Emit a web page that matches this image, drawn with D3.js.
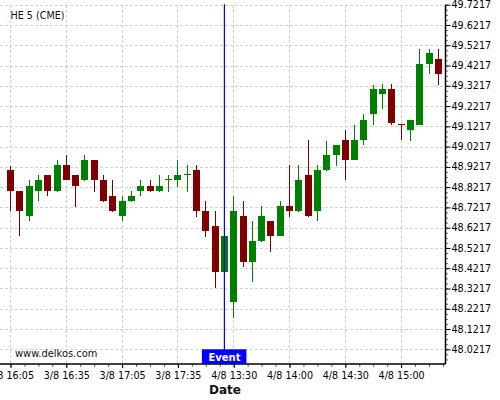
<!DOCTYPE html>
<html>
<head>
<meta charset="utf-8">
<script src="https://cdn.jsdelivr.net/npm/d3@7"></script>
<style>
html,body{margin:0;padding:0;background:#fff;}
svg{display:block;font-family:"DejaVu Sans",sans-serif;}
</style>
</head>
<body>
<svg id="chart" width="500" height="400"></svg>
<script>
const times = ["3/8 16:05","3/8 16:10","3/8 16:15","3/8 16:20","3/8 16:25","3/8 16:30","3/8 16:35","3/8 16:40","3/8 16:45","3/8 16:50","3/8 16:55","3/8 17:00","3/8 17:05","3/8 17:10","3/8 17:15","3/8 17:20","3/8 17:25","3/8 17:30","3/8 17:35","3/8 17:40","3/8 17:45","3/8 17:50","3/8 17:55","4/8 13:25","4/8 13:30","4/8 13:35","4/8 13:40","4/8 13:45","4/8 13:50","4/8 13:55","4/8 14:00","4/8 14:05","4/8 14:10","4/8 14:15","4/8 14:20","4/8 14:25","4/8 14:30","4/8 14:35","4/8 14:40","4/8 14:45","4/8 14:50","4/8 14:55","4/8 15:00","4/8 15:05","4/8 15:10","4/8 15:15","4/8 15:20"];
const open  = [48.9063,48.8027,48.6809,48.8042,48.8816,48.8042,48.9310,48.8816,48.8570,48.9556,48.8570,48.7780,48.6809,48.7534,48.8042,48.8274,48.8042,48.8584,48.8570,48.8851,48.9063,48.7055,48.6300,48.4031,48.2566,48.6794,48.4539,48.5575,48.6547,48.5822,48.7287,48.7055,48.8816,48.7055,48.9063,48.9803,49.0543,48.9556,49.0543,49.1840,49.2827,49.3059,49.1332,49.1036,49.1268,49.4292,49.4539];
const high  = [48.9275,48.8050,48.8555,48.8802,48.8816,48.9541,48.9803,48.8816,48.9803,48.9556,48.8802,48.8555,48.7780,48.8027,48.8555,48.8555,48.8802,48.8802,48.9541,48.9295,48.9295,48.7534,48.7040,48.5807,48.7766,48.7534,48.6547,48.7287,48.6547,48.7534,48.9310,48.9310,49.0543,48.9310,49.0508,49.0296,49.1036,49.1283,49.1825,49.3256,49.3291,49.3291,49.1332,49.1529,49.5017,49.5017,49.5017];
const low   = [48.7040,48.5792,48.6547,48.7519,48.7766,48.7992,48.8545,48.7253,48.8520,48.7992,48.7499,48.7006,48.6547,48.7484,48.7766,48.7992,48.7992,48.7992,48.8239,48.7992,48.6759,48.5773,48.3257,48.4031,48.1747,48.4263,48.3523,48.5526,48.5003,48.5807,48.6759,48.7006,48.6745,48.6547,48.9014,48.9275,48.8570,48.9556,49.0296,49.1268,49.2057,49.1283,49.0543,49.0508,49.1268,49.3799,49.3256];
const close = [48.8042,48.7055,48.8274,48.8570,48.8042,48.9310,48.8570,48.8288,48.9556,48.8570,48.7549,48.7055,48.7534,48.7780,48.8274,48.8042,48.8274,48.8619,48.8816,48.8866,48.7055,48.6069,48.4031,48.5807,48.7055,48.4539,48.5561,48.6794,48.5822,48.7287,48.7055,48.8570,48.6809,48.9063,48.9803,49.0296,48.9556,49.0543,49.1529,49.3059,49.3059,49.1367,49.1297,49.1529,49.4292,49.4820,49.3813];
const yTickLabels = ["48.0217","48.1217","48.2217","48.3217","48.4217","48.5217","48.6217","48.7217","48.8217","48.9217","49.0217","49.1217","49.2217","49.3217","49.4217","49.5217","49.6217","49.7217"];
const xTickIndex = [0,6,12,18,24,30,36,42];
const eventIndex = 23;
const eventLabel = "Event";
const title = "HE 5 (CME)";
const watermark = "www.delkos.com";
const xTitle = "Date";

const svg = d3.select("#chart");
const plot = {left:0, right:445.5, top:4.7, bottom:364};

const x = d3.scaleLinear().domain([0, times.length-1]).range([10.5, 438.3]);
const yVals = yTickLabels.map(Number);
const y = d3.scaleLinear().domain([yVals[0], yVals[yVals.length-1]]).range([349.3, 4.7]);

// gridlines
const grid = svg.append("g").attr("stroke","#d2d2d2").attr("stroke-dasharray","3,2").attr("stroke-width",1).attr("shape-rendering","crispEdges");
grid.selectAll("line.h").data(yVals).join("line")
  .attr("x1",plot.left).attr("x2",plot.right)
  .attr("y1",d=>Math.round(y(d))+0.5).attr("y2",d=>Math.round(y(d))+0.5);
grid.selectAll("line.v").data(xTickIndex).join("line")
  .attr("y1",plot.top).attr("y2",plot.bottom)
  .attr("x1",d=>Math.floor(x(d))+0.5).attr("x2",d=>Math.floor(x(d))+0.5);

// candles
const idx = d3.range(times.length);
const cg = svg.append("g").attr("shape-rendering","crispEdges");
const col = i => close[i] >= open[i] ? "#008000" : "#800000";
cg.selectAll("line.wick").data(idx).join("line")
  .attr("x1",i=>Math.floor(x(i))+0.5).attr("x2",i=>Math.floor(x(i))+0.5)
  .attr("y1",i=>y(high[i])).attr("y2",i=>y(low[i]))
  .attr("stroke",col).attr("stroke-width",1);
cg.selectAll("rect.body").data(idx).join("rect")
  .attr("x",i=>Math.floor(x(i))-3).attr("width",7)
  .attr("y",i=>y(Math.max(open[i],close[i])))
  .attr("height",i=>Math.max(1.2, Math.abs(y(open[i])-y(close[i]))))
  .attr("fill",col);

// right axis
const yAxisMajor = d3.axisRight(y).tickValues(yVals).tickFormat((d,i)=>yTickLabels[i]).tickSize(5).tickPadding(1);
const minorY = d3.range(yVals[0]-0.05, yVals[yVals.length-1]+0.001, 0.025).filter(v=>y(v)<=plot.bottom && y(v)>=plot.top-0.5);
const yAxisMinor = d3.axisRight(y).tickValues(minorY).tickFormat("").tickSize(2.5);
const ya = svg.append("g").attr("transform",`translate(${plot.right},0)`);
ya.append("g").call(yAxisMinor).call(g=>g.select(".domain").remove()).selectAll("line").attr("stroke","#666");
ya.append("g").call(yAxisMajor).call(g=>g.select(".domain").remove())
  .selectAll("text").attr("font-size","9.6px").attr("fill","#000").attr("font-family","DejaVu Sans");
ya.append("line").attr("x1",0).attr("x2",0).attr("y1",plot.top).attr("y2",plot.bottom).attr("stroke","#000").attr("stroke-width",1.5);

// bottom axis
const xa = svg.append("g").attr("transform",`translate(0,${plot.bottom})`);
const minorX = d3.range(0, times.length, 1.5);
xa.append("g").call(d3.axisBottom(x).tickValues(minorX).tickFormat("").tickSize(3)).call(g=>g.select(".domain").remove()).selectAll("line").attr("stroke","#666");
xa.append("g").call(d3.axisBottom(x).tickValues(xTickIndex).tickFormat(i=>times[i]).tickSize(4).tickPadding(4))
  .call(g=>g.select(".domain").remove())
  .selectAll("text").attr("font-size","9.6px").attr("fill","#000").attr("font-family","DejaVu Sans");
xa.append("line").attr("x1",plot.left).attr("x2",plot.right).attr("y1",0).attr("y2",0).attr("stroke","#000").attr("stroke-width",1.5);

// x axis title
svg.append("text").attr("x",225).attr("y",394).attr("text-anchor","middle")
  .attr("font-size","12px").attr("font-weight","bold").attr("fill","#111").text(xTitle);

// event line and label
const ex = x(eventIndex);
svg.append("line").attr("x1",ex).attr("x2",ex).attr("y1",plot.top-0.5).attr("y2",plot.bottom)
  .attr("stroke","#0000ff").attr("stroke-width",1.2);
svg.append("rect").attr("x",ex-22.5).attr("y",349.3).attr("width",44.5).attr("height",14.7).attr("fill","#0000ff");
svg.append("text").attr("x",ex).attr("y",360.5).attr("text-anchor","middle")
  .attr("font-size","10px").attr("font-weight","bold").attr("fill","#fff").text(eventLabel);

// watermark + title
svg.append("text").attr("x",15).attr("y",357).attr("font-size","9.9px").attr("fill","#111").text(watermark);
svg.append("text").attr("x",10.5).attr("y",19).attr("font-size","9.6px").attr("fill","#111").text(title);
</script>
</body>
</html>
